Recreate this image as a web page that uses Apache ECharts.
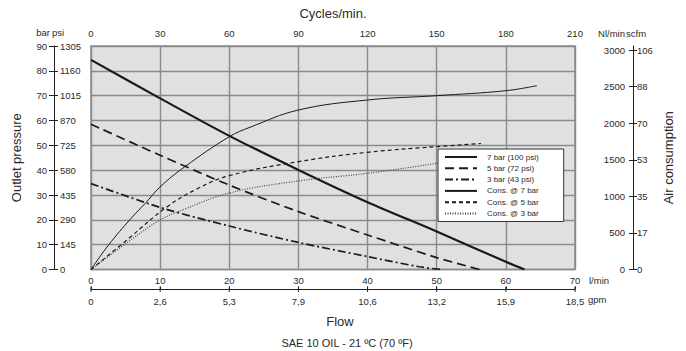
<!DOCTYPE html>
<html>
<head>
<meta charset="utf-8">
<script src="https://cdn.jsdelivr.net/npm/echarts@6/dist/echarts.min.js"></script>
<style>
  html, body { margin: 0; padding: 0; background: #fff; }
  #chart { width: 686px; height: 351px; }
</style>
</head>
<body>
<div id="chart"></div>
<script>
// flow in l/min, pressure in bar
const flow7bar = [0, 10, 20, 30, 40, 50, 60, 62.7];
const press7bar = [84.4, 68.9, 53.8, 40.1, 27.1, 15.3, 3.1, 0];
const flow5bar = [0, 10, 20, 30, 40, 50, 56.2];
const press5bar = [58.5, 46, 34, 23.3, 13.9, 4.8, 0];
const flow3bar = [0, 10, 20, 30, 40, 47.5, 50.6];
const press3bar = [34.6, 25, 17.5, 10.9, 5.2, 1.1, 0];

// air consumption in Nl/min
const flowCons7 = [0, 2.5, 5.8, 8, 10, 13.5, 20, 23, 30, 40, 50, 60, 64.5];
const cons7 = [0, 330, 700, 920, 1130, 1400, 1815, 1944, 2180, 2317, 2376, 2444, 2513];
const flowCons5 = [0, 5.4, 10.9, 15.5, 20, 30, 40, 50, 56.4];
const cons5 = [0, 420, 850, 1110, 1283, 1474, 1602, 1679, 1722];
const flowCons3 = [0, 5.4, 10, 13.5, 20, 30, 40, 47.5, 50.4, 55];
const cons3 = [0, 380, 677, 823, 1046, 1210, 1315, 1415, 1456, 1500];

const flowTicks = [0, 10, 20, 30, 40, 50, 60, 70];
const gpmLabels = ['0', '2,6', '5,3', '7,9', '10,6', '13,2', '15,9', '18,5'];
const nlminTicks = [0, 500, 1000, 1500, 2000, 2500, 3000];
const scfmLabels = ['0', '17', '35', '53', '70', '88', '106'];

const FONT = 'Liberation Sans';
const TXT = '#2a2a2a';

const pairs = (xs, ys) => xs.map((x, i) => [x, ys[i]]);

const chart = echarts.init(document.getElementById('chart'), null, { renderer: 'svg' });

const lbl = { fontFamily: FONT, fontSize: 9.5, color: TXT, formatter: (v) => String(v) };
const axisLn = () => ({ show: true, onZero: false, lineStyle: { color: '#222', width: 1 } });
const noLn = () => ({ show: false, onZero: false });

const texts = [
  { type: 'text', x: 50, y: 32, style: { text: 'bar', font: '9.5px "Liberation Sans"', fill: TXT, align: 'right', verticalAlign: 'middle' } },
  { type: 'text', x: 52, y: 32, style: { text: 'psi', font: '9.5px "Liberation Sans"', fill: TXT, align: 'left', verticalAlign: 'middle' } },
  { type: 'text', x: 625, y: 33, style: { text: 'Nl/min', font: '9.5px "Liberation Sans"', fill: TXT, align: 'right', verticalAlign: 'middle' } },
  { type: 'text', x: 626, y: 33, style: { text: 'scfm', font: '9.5px "Liberation Sans"', fill: TXT, align: 'left', verticalAlign: 'middle' } },
  { type: 'text', x: 588, y: 299, style: { text: 'gpm', font: '9.5px "Liberation Sans"', fill: TXT, align: 'left', verticalAlign: 'middle' } },
  { type: 'text', x: 340, y: 321, style: { text: 'Flow', font: '13px "Liberation Sans"', fill: TXT, align: 'center', verticalAlign: 'middle' } },
  { type: 'text', x: 347, y: 343, style: { text: 'SAE 10 OIL - 21 ºC (70 ºF)', font: '11px "Liberation Sans"', fill: TXT, align: 'center', verticalAlign: 'middle' } },
];

const option = {
  animation: false,
  textStyle: { fontFamily: FONT },
  grid: {
    left: 91, right: 111, top: 46, bottom: 81.5,
    show: true,
    backgroundColor: '#dfe0e2',
    borderColor: '#8a8a8a',
    borderWidth: 1.5,
  },
  legend: {
    orient: 'vertical',
    left: 438,
    top: 149,
    backgroundColor: '#fff',
    borderColor: '#333',
    borderWidth: 1,
    borderRadius: 0,
    padding: [4, 25, 4, 6],
    itemGap: 3.3,
    itemWidth: 32,
    itemHeight: 8,
    itemStyle: { opacity: 0 },
    textStyle: { fontFamily: FONT, fontSize: 8, color: TXT, padding: [0, 0, 0, 5] },
    data: ['7 bar (100 psi)', '5 bar (72 psi)', '3 bar (43 psi)', 'Cons. @ 7 bar', 'Cons. @ 5 bar', 'Cons. @ 3 bar'],
  },
  xAxis: [
    {
      type: 'value', position: 'bottom', min: 0, max: 70, interval: 10,
      axisLine: noLn(), axisTick: { show: false },
      axisLabel: { ...lbl, margin: 6 },
      splitLine: { show: true, lineStyle: { color: '#8a8a8a', width: 1.4 } },
      name: 'l/min', nameLocation: 'end', nameGap: 14,
      nameTextStyle: { fontFamily: FONT, fontSize: 9.5, color: TXT, verticalAlign: 'top', padding: [6, 0, 0, 0] },
    },
    {
      type: 'value', position: 'top', min: 0, max: 210, interval: 30,
      axisLine: noLn(), axisTick: { show: false },
      axisLabel: { ...lbl, margin: 8 },
      splitLine: { show: false },
      name: 'Cycles/min.', nameLocation: 'middle', nameGap: 26,
      nameTextStyle: { fontFamily: FONT, fontSize: 13, color: TXT },
    },
    {
      type: 'value', position: 'bottom', offset: 20, min: 0, max: 70, interval: 10,
      axisLine: { show: true, onZero: false, lineStyle: { color: '#222', width: 1 } },
      axisTick: { show: true, inside: true, length: 3, lineStyle: { color: '#222' } },
      axisLabel: { ...lbl, margin: 7, formatter: (v) => gpmLabels[Math.round(v / 10)] },
      splitLine: { show: false },
    },
  ],
  yAxis: [
    {
      type: 'value', position: 'left', offset: 37, min: 0, max: 90, interval: 10,
      axisLine: axisLn(),
      axisTick: { show: true, length: 5, lineStyle: { color: '#222' } },
      axisLabel: { ...lbl, margin: 7 },
      splitLine: { show: true, lineStyle: { color: '#8a8a8a', width: 1.4 } },
      name: 'Outlet pressure', nameLocation: 'middle', nameGap: 31,
      nameTextStyle: { fontFamily: FONT, fontSize: 13, color: TXT },
    },
    {
      type: 'value', position: 'left', offset: 37, min: 0, max: 1305, interval: 145,
      axisLine: noLn(),
      axisTick: { show: true, inside: true, length: 4, lineStyle: { color: '#222' } },
      axisLabel: { ...lbl, inside: true, margin: 6 },
      splitLine: { show: false },
    },
    {
      type: 'value', position: 'right', offset: 58, min: 0, max: 3055,
      axisLine: axisLn(),
      axisTick: { show: true, inside: true, length: 4, customValues: nlminTicks, lineStyle: { color: '#222' } },
      axisLabel: { ...lbl, inside: true, margin: 8, customValues: nlminTicks },
      splitLine: { show: false },
      name: 'Air consumption', nameLocation: 'middle', nameGap: 29,
      nameTextStyle: { fontFamily: FONT, fontSize: 13, color: TXT },
    },
    {
      type: 'value', position: 'right', offset: 58, min: 0, max: 3055,
      axisLine: noLn(),
      axisTick: { show: true, length: 4, customValues: nlminTicks, lineStyle: { color: '#222' } },
      axisLabel: {
        ...lbl, margin: 4, customValues: nlminTicks,
        formatter: (v) => scfmLabels[nlminTicks.indexOf(Math.round(v))],
      },
      splitLine: { show: false },
    },
  ],
  graphic: texts,
  series: [
    {
      name: '7 bar (100 psi)', type: 'line', xAxisIndex: 0, yAxisIndex: 0,
      data: pairs(flow7bar, press7bar), smooth: 0.3, showSymbol: false, symbol: 'none',
      lineStyle: { color: '#1a1a1a', width: 2.2 }, itemStyle: { color: '#1a1a1a' },
    },
    {
      name: '5 bar (72 psi)', type: 'line', xAxisIndex: 0, yAxisIndex: 0,
      data: pairs(flow5bar, press5bar), smooth: 0.3, showSymbol: false, symbol: 'none',
      lineStyle: { color: '#1a1a1a', width: 1.7, type: [9, 5] }, itemStyle: { color: '#1a1a1a' },
    },
    {
      name: '3 bar (43 psi)', type: 'line', xAxisIndex: 0, yAxisIndex: 0,
      data: pairs(flow3bar, press3bar), smooth: 0.3, showSymbol: false, symbol: 'none',
      lineStyle: { color: '#1a1a1a', width: 1.7, type: [8, 3, 2, 3] }, itemStyle: { color: '#1a1a1a' },
    },
    {
      name: 'Cons. @ 7 bar', type: 'line', xAxisIndex: 0, yAxisIndex: 2,
      data: pairs(flowCons7, cons7), smooth: 0.4, showSymbol: false, symbol: 'none',
      lineStyle: { color: '#1a1a1a', width: 1 }, itemStyle: { color: '#1a1a1a' },
    },
    {
      name: 'Cons. @ 5 bar', type: 'line', xAxisIndex: 0, yAxisIndex: 2,
      data: pairs(flowCons5, cons5), smooth: 0.4, showSymbol: false, symbol: 'none',
      lineStyle: { color: '#1a1a1a', width: 1.2, type: [4, 3] }, itemStyle: { color: '#1a1a1a' },
    },
    {
      name: 'Cons. @ 3 bar', type: 'line', xAxisIndex: 0, yAxisIndex: 2,
      data: pairs(flowCons3, cons3), smooth: 0.4, showSymbol: false, symbol: 'none',
      lineStyle: { color: '#444', width: 1.2, type: [1, 1.5] }, itemStyle: { color: '#444' },
    },
  ],
};

chart.setOption(option);

// gpm scale line drawn again from the flow axis positions, so it always shows
const x0 = chart.convertToPixel({ xAxisIndex: 0 }, 0);
const x1 = chart.convertToPixel({ xAxisIndex: 0 }, 70);
const yBase = chart.convertToPixel({ yAxisIndex: 0 }, 0) + 20;
const gpmLine = [
  { type: 'line', z: 50, shape: { x1: x0, y1: yBase, x2: x1, y2: yBase }, style: { stroke: '#222', lineWidth: 1 } },
  ...flowTicks.map((f) => {
    const x = chart.convertToPixel({ xAxisIndex: 0 }, f);
    return { type: 'line', z: 50, shape: { x1: x, y1: yBase - 3, x2: x, y2: yBase + 2.5 }, style: { stroke: '#222', lineWidth: 1 } };
  }),
];
chart.setOption({ graphic: [...texts, ...gpmLine] });
</script>
</body>
</html>
